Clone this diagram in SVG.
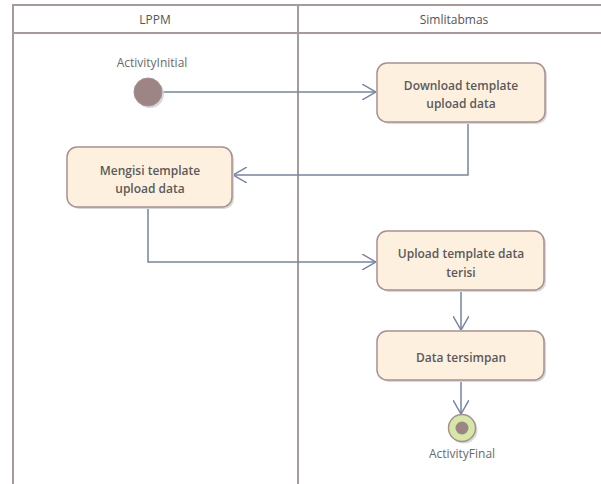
<svg xmlns="http://www.w3.org/2000/svg" width="601" height="484" viewBox="0 0 601 484">
<style>
.lane{fill:none;stroke:#a89a9a;stroke-width:2}
.hdr{font-family:"Open Sans","Liberation Sans",Arial,sans-serif;font-size:12px;fill:#555;text-anchor:middle}
.box{fill:#fdf0de;stroke:#a89090;stroke-width:1.5}
.shadow{fill:#d8d8d8}
.lbl{font-family:"Open Sans","Liberation Sans",Arial,sans-serif;font-size:12px;font-weight:600;fill:#5a5a5a;text-anchor:middle}
.name{font-family:"Open Sans","Liberation Sans",Arial,sans-serif;font-size:12px;fill:#6a6a6a;text-anchor:middle}
.conn{fill:none;stroke:#7585a5;stroke-width:1.5}
</style>
<defs>
<marker id="arr" viewBox="0 0 14 16" refX="14" refY="8" markerWidth="14" markerHeight="16" markerUnits="userSpaceOnUse" orient="auto">
<path d="M0,0 L14,8 L0,16" fill="none" stroke="#7585a5" stroke-width="1.5"/>
</marker>
</defs>
<rect width="601" height="484" fill="#fff"/>
<g id="swimlanes">
<path class="lane" d="M13,484 V5 H610 M13,33 H610 M298,5 V484"/>
<text class="hdr" x="155" y="24">LPPM</text>
<text class="hdr" x="454" y="24">Simlitabmas</text>
</g>
<g id="connectors">
<path class="conn" d="M162,92 H376" marker-end="url(#arr)"/>
<path class="conn" d="M468,122 V175 H233" marker-end="url(#arr)"/>
<path class="conn" d="M148,207 V262 H376" marker-end="url(#arr)"/>
<path class="conn" d="M461,290 V330" marker-end="url(#arr)"/>
<path class="conn" d="M461,380 V414" marker-end="url(#arr)"/>
</g>
<g id="initial">
<circle cx="150" cy="94" r="14" class="shadow"/>
<circle cx="148" cy="92" r="14" fill="#9e8585" stroke="#a89090" stroke-width="1"/>
<text class="name" x="152" y="67">ActivityInitial</text>
</g>
<g id="download">
<rect class="shadow" x="379" y="65" width="168" height="59" rx="10"/>
<rect class="box" x="377" y="63" width="168" height="59" rx="10"/>
<text class="lbl" x="461" y="90">Download template</text>
<text class="lbl" x="461" y="108">upload data</text>
</g>
<g id="mengisi">
<rect class="shadow" x="69" y="149" width="165" height="60" rx="10"/>
<rect class="box" x="67" y="147" width="165" height="60" rx="10"/>
<text class="lbl" x="150" y="175">Mengisi template</text>
<text class="lbl" x="150" y="193">upload data</text>
</g>
<g id="upload">
<rect class="shadow" x="379" y="233" width="167" height="59" rx="10"/>
<rect class="box" x="377" y="231" width="167" height="59" rx="10"/>
<text class="lbl" x="461" y="258">Upload template data</text>
<text class="lbl" x="461" y="277">terisi</text>
</g>
<g id="data">
<rect class="shadow" x="379" y="333" width="167" height="49" rx="10"/>
<rect class="box" x="377" y="331" width="167" height="49" rx="10"/>
<text class="lbl" x="461" y="362">Data tersimpan</text>
</g>
<g id="final">
<circle cx="464" cy="430" r="13.5" class="shadow"/>
<circle cx="462" cy="428" r="13.5" fill="#d6e8a8" stroke="#a89090" stroke-width="1.5"/>
<circle cx="462" cy="428" r="6.5" fill="#9e8585"/>
<text class="name" x="462" y="458">ActivityFinal</text>
</g>
</svg>
